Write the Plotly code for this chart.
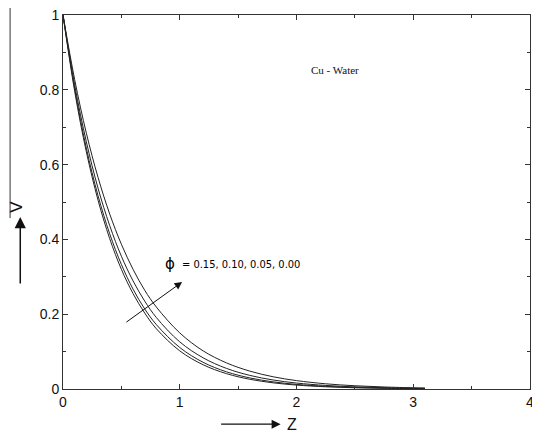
import plotly.graph_objects as go

z = [0, 0.1, 0.2, 0.3, 0.4, 0.5, 0.6, 0.7, 0.8, 1.0, 1.2, 1.4, 1.6, 1.8, 2.0, 2.25, 2.5, 2.75, 3.0, 3.1]
v_phi_000 = [1, 0.796, 0.634, 0.505, 0.402, 0.320, 0.255, 0.203, 0.161, 0.102, 0.0648, 0.0411, 0.0260, 0.0165, 0.0105, 0.0059, 0.0033, 0.0019, 0.0011, 0.0009]
v_phi_005 = [1, 0.803, 0.644, 0.517, 0.415, 0.333, 0.267, 0.214, 0.172, 0.111, 0.0714, 0.0460, 0.0296, 0.0191, 0.0123, 0.0071, 0.0041, 0.0024, 0.0014, 0.0011]
v_phi_010 = [1, 0.813, 0.661, 0.537, 0.437, 0.355, 0.289, 0.235, 0.191, 0.126, 0.0834, 0.0551, 0.0364, 0.0241, 0.0159, 0.0095, 0.0057, 0.0034, 0.0020, 0.0016]
v_phi_015 = [1, 0.827, 0.684, 0.566, 0.468, 0.387, 0.320, 0.264, 0.219, 0.150, 0.102, 0.0699, 0.0478, 0.0327, 0.0224, 0.0139, 0.0087, 0.0054, 0.0033, 0.0027]
series = [v_phi_000, v_phi_005, v_phi_010, v_phi_015]

fig = go.Figure()
for s in series:
    fig.add_trace(go.Scatter(x=z, y=s, mode="lines", line=dict(color="#222222", width=1, shape="spline"),
                             showlegend=False, hoverinfo="skip"))

axis_common = dict(showline=True, linecolor="#333333", linewidth=1, mirror="allticks", automargin=False,
                   ticks="inside", ticklen=5, tickcolor="#333333", showgrid=False, zeroline=False,
                   ticklabeloverflow="allow",
                   tickfont=dict(family="Liberation Sans, Arial", size=14, color="#111111"))
fig.update_xaxes(range=[0, 4], dtick=1, tick0=0,
                 minor=dict(dtick=0.5, ticks="inside", ticklen=3, tickcolor="#333333"), **axis_common)
fig.update_yaxes(range=[0, 1], dtick=0.2, tick0=0,
                 minor=dict(dtick=0.1, ticks="inside", ticklen=3, tickcolor="#333333"), **axis_common)

fig.add_annotation(x=2.33, y=0.853, text="Cu - Water", showarrow=False,
                   font=dict(family="Liberation Serif, Times New Roman", size=11, color="#111111"))
fig.add_annotation(x=1.02, y=0.286, ax=0.53, ay=0.176, axref="x", ayref="y", text="",
                   showarrow=True, arrowhead=2, arrowsize=1.5, arrowwidth=1, arrowcolor="#111111")
fig.add_annotation(x=0.92, y=0.334, text="\u03d5", showarrow=False,
                   font=dict(family="DejaVu Sans, Liberation Sans", size=15, color="#000000"))
fig.add_annotation(x=1.0, y=0.332, xanchor="left", text="= 0.15, 0.10, 0.05, 0.00", showarrow=False,
                   font=dict(family="Liberation Sans Narrow, DejaVu Sans Condensed, Liberation Sans", size=11, color="#000000"))

# Z axis label with arrow
fig.add_annotation(xref="paper", yref="paper", x=0.466, y=-0.094, ax=-61, ay=0, text="",
                   showarrow=True, arrowhead=2, arrowsize=1.5, arrowwidth=1.2, arrowcolor="#111111")
fig.add_annotation(xref="paper", yref="paper", x=0.49, y=-0.094, xanchor="center", yanchor="middle",
                   text="Z", showarrow=False,
                   font=dict(family="Liberation Sans, Arial", size=16, color="#111111"))
# V axis label with arrow
fig.add_annotation(xref="paper", yref="paper", x=-0.0915, y=0.46, ax=0, ay=68, text="",
                   showarrow=True, arrowhead=2, arrowsize=1.5, arrowwidth=1.5, arrowcolor="#111111")
fig.add_annotation(xref="paper", yref="paper", x=-0.1, y=0.488, xanchor="center", yanchor="middle",
                   text="V", textangle=-90, showarrow=False,
                   font=dict(family="Liberation Sans, Arial", size=17, color="#111111"))
fig.add_shape(type="line", xref="paper", yref="paper", x0=-0.1133, x1=-0.1133, y0=1.02, y1=0.457,
              line=dict(color="#333333", width=1))

fig.update_layout(width=532, height=429, margin=dict(l=55, r=10, t=7, b=48, autoexpand=False),
                  plot_bgcolor="white", paper_bgcolor="white")
fig.write_html("out.html")
